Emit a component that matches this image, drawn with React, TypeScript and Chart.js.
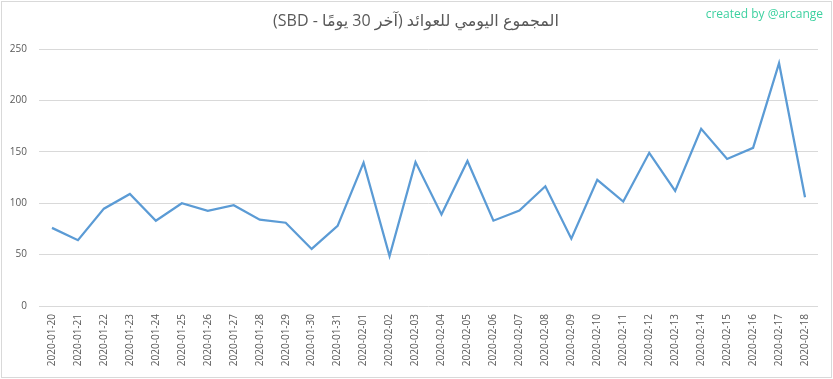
import React, { useEffect, useRef } from "react";
import { Chart, registerables } from "chart.js";

Chart.register(...registerables);

const TITLE = "المجموع اليومي للعوائد (آخر 30 يومًا - SBD)";
const WATERMARK = "created by @arcange";

const dates = [
  "2020-01-20", "2020-01-21", "2020-01-22", "2020-01-23", "2020-01-24",
  "2020-01-25", "2020-01-26", "2020-01-27", "2020-01-28", "2020-01-29",
  "2020-01-30", "2020-01-31", "2020-02-01", "2020-02-02", "2020-02-03",
  "2020-02-04", "2020-02-05", "2020-02-06", "2020-02-07", "2020-02-08",
  "2020-02-09", "2020-02-10", "2020-02-11", "2020-02-12", "2020-02-13",
  "2020-02-14", "2020-02-15", "2020-02-16", "2020-02-17", "2020-02-18",
];

const rewards = [
  76, 64, 94.7, 109, 83,
  100, 92.5, 98, 84, 81,
  55.5, 78, 139.5, 48.7, 140,
  89, 141, 83, 92.8, 116.5,
  65.5, 122.7, 101.6, 149, 112,
  172.3, 143, 153.8, 236.2, 105.8,
];

const yTicks = [0, 50, 100, 150, 200, 250];

const decorPlugin = {
  id: "decor",
  beforeDraw(chart: any) {
    const ctx = chart.ctx;
    ctx.save();
    ctx.fillStyle = "#ffffff";
    ctx.fillRect(0, 0, chart.width, chart.height);
    ctx.restore();
  },
  afterDraw(chart: any) {
    const ctx = chart.ctx;
    ctx.save();
    ctx.strokeStyle = "#d9d9d9";
    ctx.lineWidth = 1;
    ctx.strokeRect(1.5, 1.5, chart.width - 3, chart.height - 3);
    // title
    ctx.direction = "rtl";
    ctx.textAlign = "center";
    ctx.textBaseline = "middle";
    ctx.fillStyle = "#595959";
    ctx.font = "16px 'Open Sans', 'DejaVu Sans', sans-serif";
    ctx.fillText(TITLE, 416, 21);
    // watermark
    ctx.direction = "ltr";
    ctx.textAlign = "right";
    ctx.fillStyle = "#3dd1a0";
    ctx.font = "12px 'Open Sans', sans-serif";
    ctx.fillText(WATERMARK, 823, 15);
    ctx.restore();
  },
};

export default function App() {
  const ref = useRef<HTMLCanvasElement>(null);
  useEffect(() => {
    document.body.style.margin = "0";
    const chart = new Chart(ref.current as HTMLCanvasElement, {
      type: "line",
      data: {
        labels: dates,
        datasets: [
          {
            data: rewards,
            borderColor: "#5b9bd5",
            borderWidth: 2.25,
            pointRadius: 0,
            tension: 0,
            fill: false,
          },
        ],
      },
      options: {
        animation: false,
        responsive: false,
        devicePixelRatio: 1,
        layout: { padding: { top: 49, right: 15, left: 0, bottom: 0 } },
        plugins: { legend: { display: false }, title: { display: false }, tooltip: { enabled: false } },
        scales: {
          x: {
            type: "category",
            offset: true,
            grid: { display: false, drawTicks: false },
            border: { display: false },
            ticks: {
              minRotation: 90,
              maxRotation: 90,
              autoSkip: false,
              padding: 8,
              color: "#595959",
              font: { family: "'Open Sans', sans-serif", size: 10 },
            },
            afterFit: (s: any) => {
              s.height = 73;
            },
          },
          y: {
            min: 0,
            max: 250,
            afterBuildTicks: (s: any) => {
              s.ticks = yTicks.map((v) => ({ value: v }));
            },
            grid: { color: "#d9d9d9", drawTicks: false, lineWidth: 1 },
            border: { display: false },
            ticks: {
              padding: 12,
              color: "#595959",
              font: { family: "'Open Sans', sans-serif", size: 10 },
            },
            afterFit: (s: any) => {
              s.width = 39;
            },
          },
        },
      },
      plugins: [decorPlugin],
    });
    return () => chart.destroy();
  }, []);
  return (
    <div style={{ width: 833, height: 379 }}>
      <canvas ref={ref} width={833} height={379} style={{ width: 833, height: 379, display: "block" }} />
    </div>
  );
}
